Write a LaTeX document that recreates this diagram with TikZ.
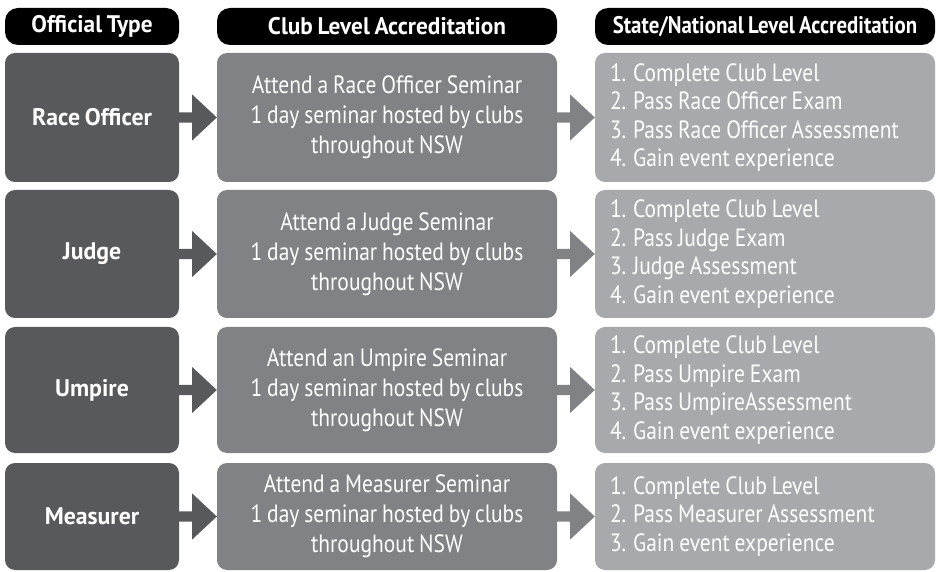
\documentclass[tikz,border=0pt]{standalone}
\usepackage{fontspec}
\setmainfont[FakeStretch=0.86,WordSpace=0.85]{PT Sans}
\newfontfamily\bfam[FakeStretch=0.97,WordSpace=0.8]{PT Sans}
\newfontfamily\bfamn[FakeStretch=0.87,WordSpace=0.8]{PT Sans}
\newfontfamily\bfamw[FakeStretch=0.99,WordSpace=0.8]{PT Sans}
\usetikzlibrary{calc}
\definecolor{darkg}{RGB}{88,89,91}
\definecolor{midg}{RGB}{128,130,133}
\definecolor{lightg}{RGB}{167,169,172}
\begin{document}
\begin{tikzpicture}[x=1pt,y=-1pt,
  hdr/.style={fill=black, rounded corners=13pt, text=white, font=\bfam\bfseries\fontsize{24}{28}\selectfont, minimum height=37pt, inner sep=0pt},
  hdrn/.style={hdr, font=\bfamn\bfseries\fontsize{24}{28}\selectfont},
  typebox/.style={fill=darkg, rounded corners=10pt, text=white, font=\bfamw\bfseries\fontsize{24}{28}\selectfont, minimum width=174pt, inner sep=0pt},
  clubbox/.style={fill=midg, rounded corners=10pt, text=white, font=\fontsize{25}{30}\selectfont, align=center, minimum width=340pt, inner sep=0pt},
  statebox/.style={fill=lightg, rounded corners=10pt, text=white, font=\fontsize{25}{28.5}\selectfont, align=flush left, text width=310pt, inner xsep=15pt, inner ysep=0pt},
  arrowA/.style={fill=darkg},
  arrowB/.style={fill=midg}]
\useasboundingbox (0,0) rectangle (938,572);
% headers
\node[hdr, minimum width=174pt] (h1) at (92,26.5) {Official Type};
\node[hdr, minimum width=340pt] (h2) at (387,26.5) {Club Level Accreditation};
\node[hdrn, minimum width=340pt] (h3) at (765,26.5) {State/National Level Accreditation};
% row 1
\node[typebox, minimum height=129pt] (t1) at (92,117.5) {Race Officer};
\node[clubbox, minimum height=129pt] (c1) at (387,117.5) {Attend a Race Officer Seminar\\1 day seminar hosted by clubs\\throughout NSW};
\node[statebox, minimum height=129pt] (s1) at (765,117.5) {1. Complete Club Level\\2. Pass Race Officer Exam\\3. Pass Race Officer Assessment\\4. Gain event experience};
% row 2
\node[typebox, minimum height=128pt] (t2) at (92,254) {Judge};
\node[clubbox, minimum height=128pt] (c2) at (387,254) {Attend a Judge Seminar\\1 day seminar hosted by clubs\\throughout NSW};
\node[statebox, minimum height=128pt] (s2) at (765,254) {1. Complete Club Level\\2. Pass Judge Exam\\3. Judge Assessment\\4. Gain event experience};
% row 3
\node[typebox, minimum height=126pt] (t3) at (92,390) {Umpire};
\node[clubbox, minimum height=126pt] (c3) at (387,390) {Attend an Umpire Seminar\\1 day seminar hosted by clubs\\throughout NSW};
\node[statebox, minimum height=126pt] (s3) at (765,390) {1. Complete Club Level\\2. Pass Umpire Exam\\3. Pass UmpireAssessment\\4. Gain event experience};
% row 4
\node[typebox, minimum height=107pt] (t4) at (92,516.5) {Measurer};
\node[clubbox, minimum height=107pt] (c4) at (387,516.5) {Attend a Measurer Seminar\\1 day seminar hosted by clubs\\throughout NSW};
\node[statebox, minimum height=107pt] (s4) at (765,516.5) {1. Complete Club Level\\2. Pass Measurer Assessment\\3. Gain event experience};
% arrows
\foreach \r in {1,2,3,4}{
  \fill[arrowA] ($(t\r.east)+(-1,-5.2)$) -- ($(t\r.east)+(13,-5.2)$) -- ($(t\r.east)+(13,-23)$) -- (c\r.west)
     -- ($(t\r.east)+(13,23)$) -- ($(t\r.east)+(13,5.2)$) -- ($(t\r.east)+(-1,5.2)$) -- cycle;
  \fill[arrowB] ($(c\r.east)+(-1,-5.2)$) -- ($(c\r.east)+(13,-5.2)$) -- ($(c\r.east)+(13,-23)$) -- (s\r.west)
     -- ($(c\r.east)+(13,23)$) -- ($(c\r.east)+(13,5.2)$) -- ($(c\r.east)+(-1,5.2)$) -- cycle;
}
\end{tikzpicture}
\end{document}
